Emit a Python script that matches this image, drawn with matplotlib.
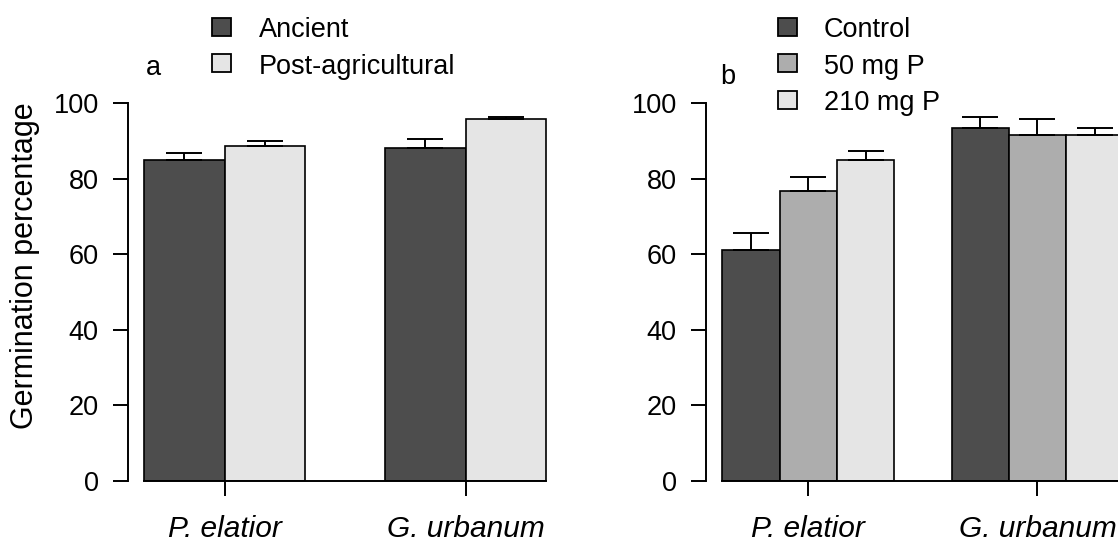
import numpy as np
import matplotlib
matplotlib.use('Agg')
import matplotlib.pyplot as plt
from matplotlib.patches import Rectangle

plt.rcParams['font.family'] = ['Liberation Sans', 'DejaVu Sans']

# species (x groups)
species = ['P. elatior', 'G. urbanum']

# panel a: forest history
hist_labels = ['Ancient', 'Post-agricultural']
ancient = [84.9, 88.2]
ancient_se = [1.9, 2.3]
postagri = [88.6, 95.8]
postagri_se = [1.5, 0.5]

# panel b: phosphorus treatment
p_labels = ['Control', '50 mg P', '210 mg P']
control = [61.1, 93.5]
control_se = [4.6, 2.8]
p50 = [76.8, 91.5]
p50_se = [3.7, 4.3]
p210 = [84.9, 91.5]
p210_se = [2.4, 2.0]

colors3 = ['#4d4d4d', '#adadad', '#e5e5e5']
colors2 = ['#4d4d4d', '#e5e5e5']

W, H = 1118, 543
FS = 19.5
FS_BIG = 21.5


def fx(px):
    return px / W


def fy(py):
    return 1 - py / H


def make_axes(fig, left_px, unit_px, n_units):
    # R barplot style: data range 1..n+1 with 4% padding each side
    lo = 1 - 0.04 * n_units
    hi = 1 + n_units + 0.04 * n_units
    left = left_px - (1 - lo) * unit_px
    width = (hi - lo) * unit_px
    ax = fig.add_axes([fx(left), fy(481), width / W, (481 - 103.3) / H])
    ax.set_xlim(lo, hi)
    ax.set_ylim(0, 100)
    return ax


def draw_panel(ax, series, errs, colors):
    n = len(series)
    ngroups = len(series[0])
    centers = []
    for g in range(ngroups):
        start = 1 + g * (n + 1)
        for i in range(n):
            x = start + i
            ax.bar(x, series[i][g], width=1, align='edge', color=colors[i],
                   edgecolor='black', linewidth=1.2, zorder=2)
            ax.errorbar(x + 0.5, series[i][g], yerr=[[0], [errs[i][g]]],
                        fmt='none', ecolor='black', elinewidth=1.4,
                        capsize=12.9, capthick=1.4, zorder=3, clip_on=False)
        centers.append(start + n / 2)
    for s in ['top', 'right']:
        ax.spines[s].set_visible(False)
    ax.spines['left'].set_linewidth(1.4)
    ax.spines['bottom'].set_linewidth(1.4)
    ax.spines['bottom'].set_bounds(1, 1 + ngroups * (n + 1) - 1)
    ax.set_yticks([0, 20, 40, 60, 80, 100])
    ax.set_xticks(centers)
    ax.set_xticklabels(species, fontstyle='italic', fontsize=FS_BIG)
    ax.tick_params(axis='y', length=10.8, width=1.4, pad=10.5, labelsize=FS)
    ax.tick_params(axis='x', length=10.8, width=1.4, pad=14)


def draw_legend(fig, sq_x, txt_x, y0, labels, colors):
    for i, lab in enumerate(labels):
        yc = y0 + i * 36.5
        fig.add_artist(Rectangle((fx(sq_x), fy(yc + 9)), 19 / W, 18 / H,
                                 transform=fig.transFigure, facecolor=colors[i],
                                 edgecolor='black', linewidth=1.3))
        fig.text(fx(txt_x), fy(yc + 3), lab, fontsize=FS, va='center', ha='left')


fig = plt.figure(figsize=(W / 100, H / 100), dpi=100)

ax1 = make_axes(fig, 144.3, 80.3, 5)
draw_panel(ax1, [ancient, postagri], [ancient_se, postagri_se], colors2)

ax2 = make_axes(fig, 722.3, 57.3, 7)
draw_panel(ax2, [control, p50, p210], [control_se, p50_se, p210_se], colors3)

fig.text(fx(25), fy(266), 'Germination percentage', rotation=90,
         fontsize=FS_BIG + 0.5, va='center', ha='center')

fig.text(fx(153), fy(68), 'a', fontsize=FS, va='center', ha='center')
fig.text(fx(728), fy(77), 'b', fontsize=FS, va='center', ha='center')

draw_legend(fig, 211.5, 259, 27, hist_labels, colors2)
draw_legend(fig, 777.5, 824, 27, p_labels, colors3)

fig.savefig('out.png', dpi=100)
